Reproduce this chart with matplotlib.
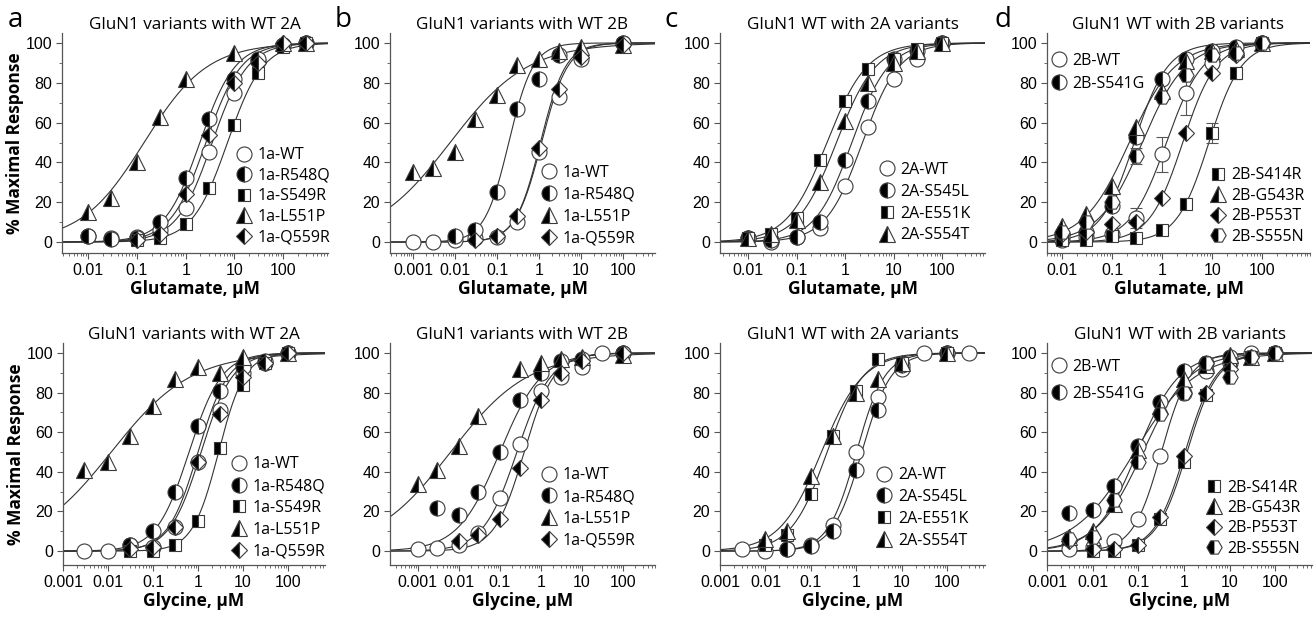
import numpy as np
import matplotlib
matplotlib.use('Agg')
import matplotlib.pyplot as plt
from matplotlib.lines import Line2D
from matplotlib.ticker import FixedLocator, FuncFormatter, LogLocator, NullFormatter

#%% Data

## Top row: glutamate concentration-response
ta_labels = ['1a-WT', '1a-R548Q', '1a-S549R', '1a-L551P', '1a-Q559R']
ta_x = [[0.01, 0.03, 0.1, 0.3, 1, 3, 10, 30, 100, 300],
        [0.01, 0.03, 0.1, 0.3, 1, 3, 10, 30, 100, 300],
        [0.1, 0.3, 1, 3, 10, 30, 100, 300],
        [0.01, 0.03, 0.1, 0.3, 1, 10, 100, 300],
        [0.1, 0.3, 1, 3, 10, 30, 100, 300]]
ta_y = [[3, 2, 2.5, 6, 17, 45, 75, 91, 99, 100],
        [3, 1.5, 2, 10, 32, 62, 82, 92, 99, 100],
        [1, 2, 9, 27, 59, 85, 98, 100],
        [15, 22, 40, 63, 82, 95, 100, 100],
        [1, 4, 24, 54, 80, 90, 100, 100]]
ta_ec50 = [3.5, 1.95, 7.2, 0.14, 2.6]
ta_nh = [1.2, 1.2, 1.2, 0.67, 1.2]

tb_labels = ['1a-WT', '1a-R548Q', '1a-L551P', '1a-Q559R']
tb_x = [[0.001, 0.003, 0.01, 0.03, 0.1, 0.3, 1, 3, 10, 100],
        [0.01, 0.03, 0.1, 0.3, 1, 3, 100],
        [0.001, 0.003, 0.01, 0.03, 0.1, 0.3, 1, 3, 10, 100],
        [0.03, 0.1, 0.3, 1, 3, 10, 100]]
tb_y = [[0, 0, 1, 2, 2.5, 10, 45, 73, 92, 100],
        [3, 6, 25, 67, 82, 94, 100],
        [35, 37, 45, 62, 74, 89, 92, 96, 98, 99],
        [1, 3, 13, 47, 77, 93, 99]]
tb_ec50 = [1.15, 0.19, 0.0076, 1.08]
tb_nh = [1.4, 1.5, 0.47, 1.45]

tc_labels = ['2A-WT', '2A-S545L', '2A-E551K', '2A-S554T']
tc_x = [[0.01, 0.03, 0.1, 0.3, 1, 3, 10, 30, 100]] * 4
tc_y = [[2, 0, 2.5, 7, 28, 58, 82, 92, 100],
        [2, 1, 2.5, 10, 41, 71, 92, 96, 100],
        [2, 4, 12, 41, 71, 87, 92, 97, 100],
        [2, 4, 11, 30, 61, 80, 90, 96, 100]]
tc_ec50 = [2.27, 1.37, 0.42, 0.66]
tc_nh = [1.15, 1.15, 1.05, 1.07]

td_labels = ['2B-WT', '2B-S541G', '2B-S414R', '2B-G543R', '2B-P553T', '2B-S555N']
td_x = [[0.01, 0.03, 0.1, 0.3, 1, 3, 10, 30, 100]] * 6
td_y = [[1, 2.5, 4, 12, 44, 75, 90, 95, 100],
        [3, 5, 18, 53, 82, 92, 96, 98, 100],
        [1, 1, 3, 2, 6, 19, 55, 85, 100],
        [8, 14, 28, 58, 76, 91, 96, 97, 100],
        [4, 5, 9, 10, 22, 55, 85, 94, 100],
        [5, 10, 20, 43, 73, 84, 94, 95, 100]]
td_err = [[0, 0, 1, 5, 9, 11, 2, 2, 0],
          [0, 0, 0, 0, 0, 0, 0, 0, 0],
          [0, 0, 0, 0, 0, 0, 5, 3, 0],
          [0, 0, 0, 0, 0, 0, 0, 0, 0],
          [0, 0, 0, 0, 0, 0, 0, 0, 0],
          [0, 0, 0, 4, 0, 0, 0, 0, 0]]
td_ec50 = [1.22, 0.277, 8.6, 0.22, 2.58, 0.4]
td_nh = [1.2, 1.3, 1.35, 0.95, 1.3, 1.0]

## Bottom row: glycine concentration-response
ba_labels = ta_labels
ba_x = [[0.003, 0.01, 0.03, 0.1, 0.3, 1, 3, 10, 30, 100],
        [0.03, 0.1, 0.3, 1, 3, 10, 30, 100],
        [0.03, 0.1, 0.3, 1, 3, 10, 30, 100],
        [0.003, 0.01, 0.03, 0.1, 0.3, 1, 3, 10, 100],
        [0.03, 0.1, 0.3, 1, 3, 10, 30, 100]]
ba_y = [[0, 0, 3, 2, 12, 45, 71, 90, 95, 100],
        [3, 10, 30, 63, 81, 93, 96, 100],
        [0, 0, 3, 15, 52, 84, 95, 100],
        [41, 45, 58, 73, 87, 93, 90, 98, 100],
        [1, 2, 12, 45, 69, 88, 95, 100]]
ba_ec50 = [1.0, 0.63, 2.86, 0.0118, 1.17]
ba_nh = [1.3, 1.2, 1.5, 0.49, 1.25]

bb_labels = tb_labels
bb_x = [[0.001, 0.003, 0.01, 0.03, 0.1, 0.3, 1, 3, 10, 30, 100],
        [0.003, 0.01, 0.03, 0.1, 0.3, 1, 3, 10, 100],
        [0.001, 0.003, 0.01, 0.03, 0.3, 1, 3, 10, 100],
        [0.01, 0.03, 0.1, 0.3, 1, 3, 10, 100]]
bb_y = [[1, 1.5, 3, 9, 27, 54, 81, 88, 93, 100, 100],
        [22, 18, 30, 50, 76, 90, 96, 97, 100],
        [34, 41, 53, 68, 92, 95, 97, 98, 99],
        [5, 8, 16, 42, 76, 90, 96, 100]]
bb_ec50 = [0.26, 0.1, 0.0063, 0.39]
bb_nh = [1.05, 0.85, 0.46, 1.2]

bc_labels = tc_labels
bc_x = [[0.003, 0.01, 0.03, 0.1, 0.3, 1, 3, 10, 30, 100, 300],
        [0.03, 0.1, 0.3, 1, 3, 10, 100],
        [0.01, 0.03, 0.1, 0.3, 1, 3, 10, 100],
        [0.01, 0.03, 0.1, 0.3, 1, 3, 10, 100]]
bc_y = [[1, 0, 1, 3, 13, 50, 78, 92, 100, 100, 100],
        [1, 2.5, 10, 41, 71, 94, 100],
        [3, 8, 29, 58, 81, 97, 95, 100],
        [6, 10, 38, 58, 80, 87, 95, 100]]
bc_ec50 = [1.0, 1.31, 0.226, 0.17]
bc_nh = [1.4, 1.35, 1.1, 0.95]

bd_labels = td_labels
bd_x = [[0.003, 0.01, 0.03, 0.1, 0.3, 1, 3, 10, 30, 100],
        [0.003, 0.01, 0.03, 0.1, 0.3, 1, 3, 10, 100],
        [0.01, 0.03, 0.1, 0.3, 1, 3, 10, 30, 100],
        [0.003, 0.01, 0.03, 0.1, 0.3, 1, 3, 10, 30, 100],
        [0.003, 0.01, 0.03, 0.1, 0.3, 1, 3, 10, 30, 100],
        [0.003, 0.01, 0.03, 0.1, 0.3, 1, 3, 10, 30, 100]]
bd_y = [[1, 2, 5, 16, 48, 80, 91, 95, 100, 100],
        [19, 21, 33, 53, 75, 91, 95, 98, 100],
        [0, 0, 3, 16, 45, 79, 95, 98, 100],
        [7, 10, 24, 51, 73, 87, 94, 99, 98, 100],
        [5, 1, 1, 3, 17, 48, 80, 92, 98, 100],
        [6, 7, 26, 45, 69, 80, 95, 88, 98, 100]]
bd_ec50 = [0.32, 0.083, 1.17, 0.096, 1.06, 0.126]
bd_nh = [1.4, 0.65, 1.3, 0.95, 1.3, 0.85]

#%% Styles

half = {'o': 10.8, 's': 9.3, '^': 11, 'D': 7.8, 'H': 11}
marker_of = {'WT': 'o', 'R548Q': 'o', 'S545L': 'o', 'S541G': 'o',
             'S549R': 's', 'E551K': 's', 'S414R': 's',
             'L551P': '^', 'S554T': '^', 'G543R': '^',
             'Q559R': 'D', 'P553T': 'D', 'S555N': 'H'}

TXT = ['Open Sans', 'DejaVu Sans']
NUM = ['Liberation Sans', 'DejaVu Sans']
EDGE = '#3a3a3a'


def mstyle(label):
    key = label.split('-')[1]
    m = marker_of[key]
    st = dict(ls='none', marker=m, markersize=half[m], markeredgecolor=EDGE,
              markeredgewidth=0.8)
    if key == 'WT':
        st.update(markerfacecolor='white')
    else:
        st.update(fillstyle='left', markerfacecolor='black', markerfacecoloralt='white')
    return st


def hill(x, ec50, nh):
    return 100.0 / (1.0 + (ec50 / x) ** nh)


def axpos(x0, x1, y0, y1):
    return [x0 / 1314, (617 - y1) / 617, (x1 - x0) / 1314, (y1 - y0) / 617]


fig = plt.figure(figsize=(13.14, 6.17), dpi=100)

## legend groups: (series indices, anchor in axes fraction, label spacing)
panels = [
    (axpos(62, 328, 33, 253), (0.0029, 830), (-5.5, 105), 'GluN1 variants with WT 2A', 'Glutamate, μM',
     ta_labels, ta_x, ta_y, ta_ec50, ta_nh, None, [([0, 1, 2, 3, 4], (0.655, 0.48), 0.28)]),
    (axpos(390, 655, 33, 253), (0.00028, 580), (-5.5, 105), 'GluN1 variants with WT 2B', 'Glutamate, μM',
     tb_labels, tb_x, tb_y, tb_ec50, tb_nh, None, [([0, 1, 2, 3], (0.57, 0.40), 0.37)]),
    (axpos(720, 985, 33, 253), (0.0026, 770), (-5.5, 105), 'GluN1 WT with 2A variants', 'Glutamate, μM',
     tc_labels, tc_x, tc_y, tc_ec50, tc_nh, None, [([0, 1, 2, 3], (0.60, 0.415), 0.37)]),
    (axpos(1047, 1310, 33, 253), (0.005, 900), (-5.5, 105), 'GluN1 WT with 2B variants', 'Glutamate, μM',
     td_labels, td_x, td_y, td_ec50, td_nh, td_err,
     [([0, 1], (0.015, 0.91), 0.42), ([2, 3, 4, 5], (0.62, 0.39), 0.28)]),
    (axpos(63, 325, 343, 565), (0.001, 660), (-7, 105), 'GluN1 variants with WT 2A', 'Glycine, μM',
     ba_labels, ba_x, ba_y, ba_ec50, ba_nh, None, [([0, 1, 2, 3, 4], (0.64, 0.49), 0.37)]),
    (axpos(390, 655, 343, 565), (0.00021, 600), (-7, 105), 'GluN1 variants with WT 2B', 'Glycine, μM',
     bb_labels, bb_x, bb_y, bb_ec50, bb_nh, None, [([0, 1, 2, 3], (0.57, 0.44), 0.36)]),
    (axpos(720, 985, 343, 565), (0.001, 670), (-7, 105), 'GluN1 WT with 2A variants', 'Glycine, μM',
     bc_labels, bc_x, bc_y, bc_ec50, bc_nh, None, [([0, 1, 2, 3], (0.59, 0.44), 0.36)]),
    (axpos(1047, 1312, 343, 565), (0.001, 640), (-7, 105), 'GluN1 WT with 2B variants', 'Glycine, μM',
     bd_labels, bd_x, bd_y, bd_ec50, bd_nh, None,
     [([0, 1], (0.015, 0.93), 0.7), ([2, 3, 4, 5], (0.60, 0.385), 0.28)]),
]

for k, (pos, xlim, ylim, title, xlabel, labels, xs, ys, ec, nh, errs, groups) in enumerate(panels):
    ax = fig.add_axes(pos)
    ax.set_xscale('log')
    ax.set_xlim(*xlim)
    ax.set_ylim(*ylim)
    xx = np.logspace(np.log10(xlim[0]), np.log10(xlim[1]), 400)
    for i, lab in enumerate(labels):
        ax.plot(xx, hill(xx, ec[i], nh[i]), color='#333333', lw=0.8, zorder=2)
    for i, lab in enumerate(labels):
        if errs is not None and any(errs[i]):
            ax.errorbar(xs[i], ys[i], yerr=errs[i], fmt='none', ecolor='#555555',
                        elinewidth=0.8, capsize=4, capthick=0.8, zorder=3)
        ax.plot(xs[i], ys[i], zorder=4, clip_on=False, **mstyle(lab))

    ax.spines['top'].set_visible(False)
    ax.spines['right'].set_visible(False)
    for s in ('left', 'bottom'):
        ax.spines[s].set_color('#555555')
        ax.spines[s].set_linewidth(0.9)

    decs = [10.0 ** p for p in range(-3, 3) if xlim[0] * 0.999 <= 10.0 ** p <= xlim[1]]
    ax.xaxis.set_major_locator(FixedLocator(decs))
    ax.xaxis.set_major_formatter(FuncFormatter(lambda v, p: '%g' % v))
    ax.xaxis.set_minor_locator(LogLocator(base=10, subs=np.arange(2, 10), numticks=20))
    ax.xaxis.set_minor_formatter(NullFormatter())
    ax.set_yticks([0, 20, 40, 60, 80, 100])
    ax.set_yticks([10, 30, 50, 70, 90], minor=True)
    ax.tick_params(which='major', length=4, width=0.8, color='#555555', labelsize=11.5, pad=3)
    ax.tick_params(which='minor', length=2.5, width=0.6, color='#555555')
    for t in ax.get_xticklabels() + ax.get_yticklabels():
        t.set_family(NUM)

    ax.set_title(title, fontsize=12.3, family=TXT, pad=3)
    ax.set_xlabel(xlabel, fontsize=12.5, family=TXT, fontweight='bold', labelpad=2)
    if k % 4 == 0:
        ax.set_ylabel('% Maximal Response', fontsize=12.5, family=TXT, fontweight='bold', labelpad=1)

    legs = []
    for idx, anchor, lsp in groups:
        handles = [Line2D([], [], **mstyle(labels[j])) for j in idx]
        leg = ax.legend(handles, [labels[j] for j in idx], loc='upper left', bbox_to_anchor=anchor,
                        frameon=False, prop={'family': TXT, 'size': 11.5}, handlelength=1.0,
                        handletextpad=0.35, labelspacing=lsp, borderpad=0, borderaxespad=0)
        legs.append(leg)
    for leg in legs[:-1]:
        ax.add_artist(leg)

for lt, xp in zip('abcd', [8, 335, 664, 994]):
    fig.text(xp / 1314, 1 - 20 / 617, lt, fontsize=20, family=TXT, va='center', ha='left')

fig.savefig('out.png', dpi=100)
